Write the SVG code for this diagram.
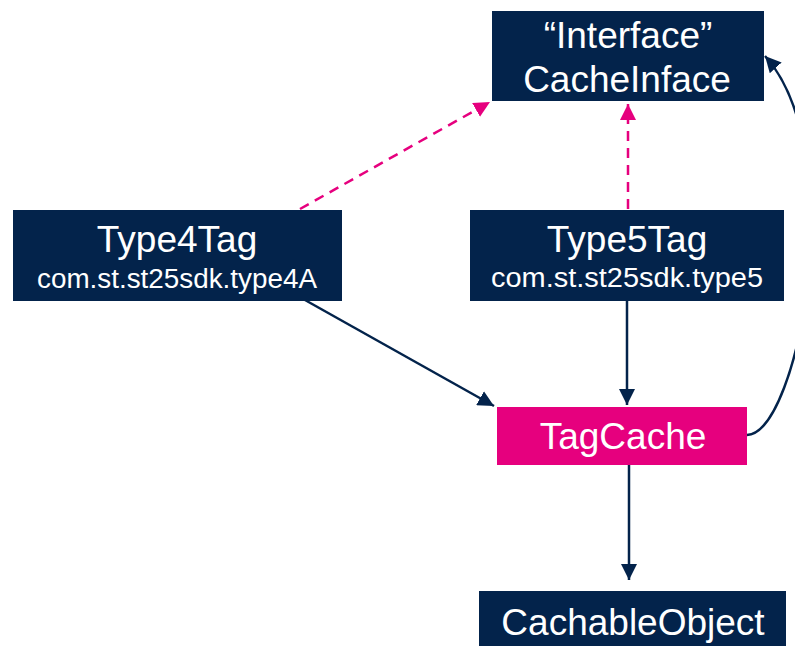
<svg xmlns="http://www.w3.org/2000/svg" width="795" height="646" viewBox="0 0 795 646">
  <style>
    .box { fill: #03234B; }
    .hot { fill: #E6007E; }
    text { font-family: "Liberation Sans", Arial, sans-serif; fill: #FFFFFF; text-anchor: middle; }
    .title { font-size: 37px; }
    .sub { font-size: 27px; }
    .link { fill: none; stroke: #03234B; stroke-width: 2.5; }
    .impl { fill: none; stroke: #E6007E; stroke-width: 2.5; stroke-dasharray: 10 7; }
  </style>
  <defs>
    <marker id="arrowNavy" markerUnits="userSpaceOnUse" markerWidth="18" markerHeight="16" refX="16" refY="8" orient="auto">
      <path d="M0,0 L16,8 L0,16 Z" fill="#03234B"/>
    </marker>
    <marker id="arrowPink" markerUnits="userSpaceOnUse" markerWidth="18" markerHeight="16" refX="16" refY="8" orient="auto">
      <path d="M0,0 L16,8 L0,16 Z" fill="#E6007E"/>
    </marker>
  </defs>

  <g id="connectors">
    <line class="impl" x1="300" y1="209" x2="490" y2="102" marker-end="url(#arrowPink)"/>
    <line class="impl" x1="628" y1="209" x2="628" y2="104" marker-end="url(#arrowPink)"/>
    <line class="link" x1="305" y1="300" x2="494" y2="406" marker-end="url(#arrowNavy)"/>
    <line class="link" x1="627" y1="301" x2="627" y2="405" marker-end="url(#arrowNavy)"/>
    <line class="link" x1="629" y1="465" x2="629" y2="580" marker-end="url(#arrowNavy)"/>
    <path class="link" d="M747,435 C800,432 850,150 765,56" marker-end="url(#arrowNavy)"/>
  </g>

  <g id="cache-interface">
    <rect class="box" x="492" y="11" width="272" height="90"/>
    <text class="title" x="628" y="48">“Interface”</text>
    <text class="title" x="627" y="92">CacheInface</text>
  </g>

  <g id="type4tag">
    <rect class="box" x="13" y="210" width="329" height="91"/>
    <text class="title" x="177" y="252">Type4Tag</text>
    <text class="sub" x="177" y="288" textLength="280" lengthAdjust="spacingAndGlyphs">com.st.st25sdk.type4A</text>
  </g>

  <g id="type5tag">
    <rect class="box" x="470" y="210" width="314" height="91"/>
    <text class="title" x="627" y="252">Type5Tag</text>
    <text class="sub" x="627" y="287" textLength="272" lengthAdjust="spacingAndGlyphs">com.st.st25sdk.type5</text>
  </g>

  <g id="tag-cache">
    <rect class="hot" x="497" y="407" width="250" height="58"/>
    <text class="title" x="623" y="449">TagCache</text>
  </g>

  <g id="cachable-object">
    <rect class="box" x="479" y="591" width="307" height="55"/>
    <text class="title" x="633" y="635">CachableObject</text>
  </g>
</svg>
